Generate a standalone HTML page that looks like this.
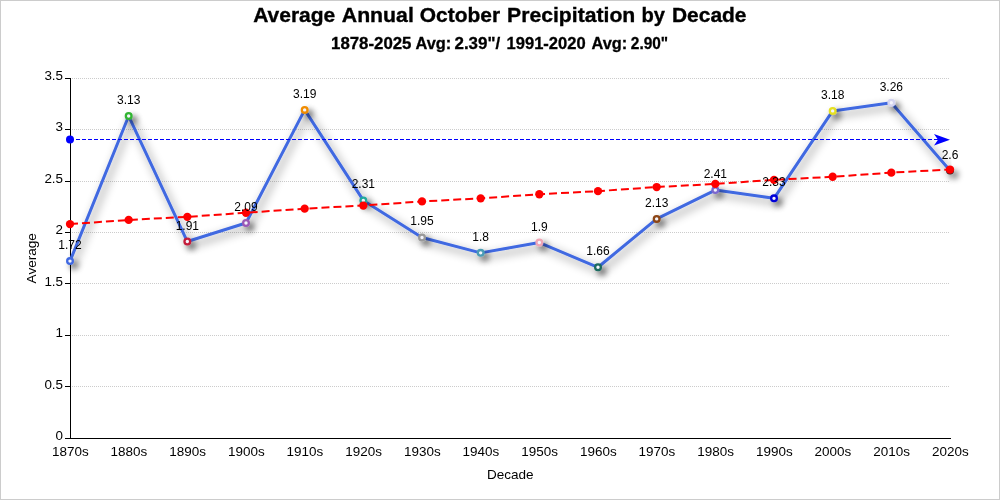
<!DOCTYPE html>
<html><head><meta charset="utf-8"><title>Average Annual October Precipitation by Decade</title>
<style>
html,body{margin:0;padding:0;background:#fff;}
body{width:1000px;height:500px;overflow:hidden;}
#chart{box-sizing:border-box;width:1000px;height:500px;border:1px solid #ccc;background:#fff;position:relative;}
svg{position:absolute;left:-1px;top:-1px;}
text{font-family:"Liberation Sans",sans-serif;fill:#000;}
.ax{font-size:13px;}
.lb{font-size:12px;}
</style></head><body><div id="chart">
<svg width="1000" height="500" viewBox="0 0 1000 500">
<defs>
<filter id="sh" x="-10%" y="-20%" width="120%" height="140%" filterUnits="objectBoundingBox">
<feGaussianBlur in="SourceAlpha" stdDeviation="5"/><feOffset dx="3" dy="3.5" result="b"/>
<feComponentTransfer><feFuncA type="linear" slope="0.5"/></feComponentTransfer>
<feMerge><feMergeNode/><feMergeNode in="SourceGraphic"/></feMerge>
</filter>
<filter id="sh2" x="-300%" y="-300%" width="700%" height="700%">
<feGaussianBlur in="SourceAlpha" stdDeviation="3"/><feOffset dx="3.5" dy="4" result="b"/>
<feComponentTransfer><feFuncA type="linear" slope="0.6"/></feComponentTransfer>
<feMerge><feMergeNode/><feMergeNode in="SourceGraphic"/></feMerge>
</filter>
<clipPath id="cp"><rect x="68.5" y="60" width="883" height="400"/></clipPath>
</defs>

<text y="22.4" font-size="21" font-weight="bold" style="fill:#000;stroke:#000;stroke-width:0.35"><tspan x="253.20" textLength="82.11" lengthAdjust="spacingAndGlyphs">Average</tspan> <tspan x="341.79" textLength="72.05" lengthAdjust="spacingAndGlyphs">Annual</tspan> <tspan x="419.75" textLength="80.31" lengthAdjust="spacingAndGlyphs">October</tspan> <tspan x="507.09" textLength="128.22" lengthAdjust="spacingAndGlyphs">Precipitation</tspan> <tspan x="641.46" textLength="23.49" lengthAdjust="spacingAndGlyphs">by</tspan> <tspan x="672.00" textLength="74.51" lengthAdjust="spacingAndGlyphs">Decade</tspan></text>
<text y="48.6" font-size="16" font-weight="bold" style="fill:#000;stroke:#000;stroke-width:0.3"><tspan x="331.05" textLength="80.39" lengthAdjust="spacingAndGlyphs">1878-2025</tspan> <tspan x="415.59" textLength="35.71" lengthAdjust="spacingAndGlyphs">Avg:</tspan> <tspan x="454.47" textLength="45.71" lengthAdjust="spacingAndGlyphs">2.39&quot;/</tspan> <tspan x="506.57" textLength="79.02" lengthAdjust="spacingAndGlyphs">1991-2020</tspan> <tspan x="591.59" textLength="35.71" lengthAdjust="spacingAndGlyphs">Avg:</tspan> <tspan x="630.82" textLength="37.33" lengthAdjust="spacingAndGlyphs">2.90&quot;</tspan></text>
<line x1="70" x2="950" y1="386.5" y2="386.5" stroke="#ccc" stroke-width="1" stroke-dasharray="1 1"/>
<line x1="70" x2="950" y1="335.5" y2="335.5" stroke="#ccc" stroke-width="1" stroke-dasharray="1 1"/>
<line x1="70" x2="950" y1="283.5" y2="283.5" stroke="#ccc" stroke-width="1" stroke-dasharray="1 1"/>
<line x1="70" x2="950" y1="232.5" y2="232.5" stroke="#ccc" stroke-width="1" stroke-dasharray="1 1"/>
<line x1="70" x2="950" y1="181.5" y2="181.5" stroke="#ccc" stroke-width="1" stroke-dasharray="1 1"/>
<line x1="70" x2="950" y1="129.5" y2="129.5" stroke="#ccc" stroke-width="1" stroke-dasharray="1 1"/>
<line x1="70" x2="950" y1="78.5" y2="78.5" stroke="#ccc" stroke-width="1" stroke-dasharray="1 1"/>
<line x1="70.5" x2="70.5" y1="78" y2="439" stroke="#000" stroke-width="1"/>
<line x1="70" x2="951" y1="438.5" y2="438.5" stroke="#000" stroke-width="1"/>
<line x1="65" x2="70" y1="438.5" y2="438.5" stroke="#000" stroke-width="1"/>
<text class="ax" x="63" y="440.3" text-anchor="end" style="font-size:13.4px">0</text>
<line x1="65" x2="70" y1="386.5" y2="386.5" stroke="#000" stroke-width="1"/>
<text class="ax" x="63" y="389.3" text-anchor="end" style="font-size:13.4px">0.5</text>
<line x1="65" x2="70" y1="335.5" y2="335.5" stroke="#000" stroke-width="1"/>
<text class="ax" x="63" y="337.3" text-anchor="end" style="font-size:13.4px">1</text>
<line x1="65" x2="70" y1="283.5" y2="283.5" stroke="#000" stroke-width="1"/>
<text class="ax" x="63" y="286.3" text-anchor="end" style="font-size:13.4px">1.5</text>
<line x1="65" x2="70" y1="232.5" y2="232.5" stroke="#000" stroke-width="1"/>
<text class="ax" x="63" y="234.3" text-anchor="end" style="font-size:13.4px">2</text>
<line x1="65" x2="70" y1="181.5" y2="181.5" stroke="#000" stroke-width="1"/>
<text class="ax" x="63" y="183.3" text-anchor="end" style="font-size:13.4px">2.5</text>
<line x1="65" x2="70" y1="129.5" y2="129.5" stroke="#000" stroke-width="1"/>
<text class="ax" x="63" y="131.3" text-anchor="end" style="font-size:13.4px">3</text>
<line x1="65" x2="70" y1="78.5" y2="78.5" stroke="#000" stroke-width="1"/>
<text class="ax" x="63" y="80.3" text-anchor="end" style="font-size:13.4px">3.5</text>
<text class="ax" x="70.30" y="455.7" text-anchor="middle" textLength="36.7" lengthAdjust="spacingAndGlyphs">1870s</text>
<text class="ax" x="128.97" y="455.7" text-anchor="middle" textLength="36.7" lengthAdjust="spacingAndGlyphs">1880s</text>
<text class="ax" x="187.63" y="455.7" text-anchor="middle" textLength="36.7" lengthAdjust="spacingAndGlyphs">1890s</text>
<text class="ax" x="246.30" y="455.7" text-anchor="middle" textLength="36.7" lengthAdjust="spacingAndGlyphs">1900s</text>
<text class="ax" x="304.97" y="455.7" text-anchor="middle" textLength="36.7" lengthAdjust="spacingAndGlyphs">1910s</text>
<text class="ax" x="363.63" y="455.7" text-anchor="middle" textLength="36.7" lengthAdjust="spacingAndGlyphs">1920s</text>
<text class="ax" x="422.30" y="455.7" text-anchor="middle" textLength="36.7" lengthAdjust="spacingAndGlyphs">1930s</text>
<text class="ax" x="480.97" y="455.7" text-anchor="middle" textLength="36.7" lengthAdjust="spacingAndGlyphs">1940s</text>
<text class="ax" x="539.63" y="455.7" text-anchor="middle" textLength="36.7" lengthAdjust="spacingAndGlyphs">1950s</text>
<text class="ax" x="598.30" y="455.7" text-anchor="middle" textLength="36.7" lengthAdjust="spacingAndGlyphs">1960s</text>
<text class="ax" x="656.97" y="455.7" text-anchor="middle" textLength="36.7" lengthAdjust="spacingAndGlyphs">1970s</text>
<text class="ax" x="715.63" y="455.7" text-anchor="middle" textLength="36.7" lengthAdjust="spacingAndGlyphs">1980s</text>
<text class="ax" x="774.30" y="455.7" text-anchor="middle" textLength="36.7" lengthAdjust="spacingAndGlyphs">1990s</text>
<text class="ax" x="832.97" y="455.7" text-anchor="middle" textLength="36.7" lengthAdjust="spacingAndGlyphs">2000s</text>
<text class="ax" x="891.63" y="455.7" text-anchor="middle" textLength="36.7" lengthAdjust="spacingAndGlyphs">2010s</text>
<text class="ax" x="950.30" y="455.7" text-anchor="middle" textLength="36.7" lengthAdjust="spacingAndGlyphs">2020s</text>
<text class="ax" x="510.2" y="478.5" text-anchor="middle" textLength="46.6" lengthAdjust="spacingAndGlyphs">Decade</text>
<text class="ax" transform="translate(35.6,258.3) rotate(-90)" text-anchor="middle" textLength="50.2" lengthAdjust="spacingAndGlyphs">Average</text>
<polyline points="70.00,261.09 128.67,116.06 187.33,241.54 246.00,223.03 304.67,109.89 363.33,200.40 422.00,237.43 480.67,252.86 539.33,242.57 598.00,267.26 656.67,218.91 715.33,190.11 774.00,198.34 832.67,110.91 891.33,102.69 950.00,170.57" fill="none" stroke="#4169E1" stroke-width="3" stroke-linejoin="bevel" filter="url(#sh)" clip-path="url(#cp)"/>
<circle cx="70.00" cy="261.09" r="2.85" fill="#f4f4fc" stroke="#4169E1" stroke-width="2.3" filter="url(#sh2)"/>
<circle cx="128.67" cy="116.06" r="2.85" fill="#f4f4fc" stroke="#32B432" stroke-width="2.3" filter="url(#sh2)"/>
<circle cx="187.33" cy="241.54" r="2.85" fill="#f4f4fc" stroke="#C41E3A" stroke-width="2.3" filter="url(#sh2)"/>
<circle cx="246.00" cy="223.03" r="2.85" fill="#f4f4fc" stroke="#9B59B6" stroke-width="2.3" filter="url(#sh2)"/>
<circle cx="304.67" cy="109.89" r="2.85" fill="#f4f4fc" stroke="#F08C00" stroke-width="2.3" filter="url(#sh2)"/>
<circle cx="363.33" cy="200.40" r="2.85" fill="#f4f4fc" stroke="#20A89C" stroke-width="2.3" filter="url(#sh2)"/>
<circle cx="422.00" cy="237.43" r="2.85" fill="#f4f4fc" stroke="#999999" stroke-width="2.3" filter="url(#sh2)"/>
<circle cx="480.67" cy="252.86" r="2.85" fill="#f4f4fc" stroke="#4A9CB5" stroke-width="2.3" filter="url(#sh2)"/>
<circle cx="539.33" cy="242.57" r="2.85" fill="#f4f4fc" stroke="#EFA5B5" stroke-width="2.3" filter="url(#sh2)"/>
<circle cx="598.00" cy="267.26" r="2.85" fill="#f4f4fc" stroke="#1A6B60" stroke-width="2.3" filter="url(#sh2)"/>
<circle cx="656.67" cy="218.91" r="2.85" fill="#f4f4fc" stroke="#8B4513" stroke-width="2.3" filter="url(#sh2)"/>
<circle cx="715.33" cy="190.11" r="2.85" fill="#f4f4fc" stroke="#7B68CE" stroke-width="2.3" filter="url(#sh2)"/>
<circle cx="774.00" cy="198.34" r="2.85" fill="#f4f4fc" stroke="#0000D8" stroke-width="2.3" filter="url(#sh2)"/>
<circle cx="832.67" cy="110.91" r="2.85" fill="#f4f4fc" stroke="#E6E020" stroke-width="2.3" filter="url(#sh2)"/>
<circle cx="891.33" cy="102.69" r="2.85" fill="#f4f4fc" stroke="#D4D4F0" stroke-width="2.3" filter="url(#sh2)"/>
<circle cx="950.00" cy="170.57" r="2.85" fill="#f4f4fc" stroke="#402020" stroke-width="2.3" filter="url(#sh2)"/>
<line x1="70" x2="940" y1="139.5" y2="139.5" stroke="#0000ff" stroke-width="1" stroke-dasharray="4 2"/>
<circle cx="70" cy="139.5" r="4" fill="#0000ff"/>
<polygon points="950,139.7 934,133.9 938,139.7 934,145.5" fill="#0000ff"/>
<polyline points="70.00,224.06 128.67,219.94 187.33,216.86 246.00,212.74 304.67,208.63 363.33,205.54 422.00,201.43 480.67,198.34 539.33,194.23 598.00,191.14 656.67,187.03 715.33,183.94 774.00,179.83 832.67,176.74 891.33,172.63 950.00,169.54" fill="none" stroke="#ff0000" stroke-width="2" stroke-dasharray="8 4"/>
<circle cx="70.00" cy="224.06" r="4.15" fill="#ff0000"/>
<circle cx="128.67" cy="219.94" r="4.15" fill="#ff0000"/>
<circle cx="187.33" cy="216.86" r="4.15" fill="#ff0000"/>
<circle cx="246.00" cy="212.74" r="4.15" fill="#ff0000"/>
<circle cx="304.67" cy="208.63" r="4.15" fill="#ff0000"/>
<circle cx="363.33" cy="205.54" r="4.15" fill="#ff0000"/>
<circle cx="422.00" cy="201.43" r="4.15" fill="#ff0000"/>
<circle cx="480.67" cy="198.34" r="4.15" fill="#ff0000"/>
<circle cx="539.33" cy="194.23" r="4.15" fill="#ff0000"/>
<circle cx="598.00" cy="191.14" r="4.15" fill="#ff0000"/>
<circle cx="656.67" cy="187.03" r="4.15" fill="#ff0000"/>
<circle cx="715.33" cy="183.94" r="4.15" fill="#ff0000"/>
<circle cx="774.00" cy="179.83" r="4.15" fill="#ff0000"/>
<circle cx="832.67" cy="176.74" r="4.15" fill="#ff0000"/>
<circle cx="891.33" cy="172.63" r="4.15" fill="#ff0000"/>
<circle cx="950.00" cy="169.54" r="4.15" fill="#ff0000"/>
<text class="lb" x="70.00" y="248.65" text-anchor="middle">1.72</text>
<text class="lb" x="128.67" y="103.65" text-anchor="middle">3.13</text>
<text class="lb" x="187.33" y="229.65" text-anchor="middle">1.91</text>
<text class="lb" x="246.00" y="210.65" text-anchor="middle">2.09</text>
<text class="lb" x="304.67" y="97.65" text-anchor="middle">3.19</text>
<text class="lb" x="363.33" y="187.65" text-anchor="middle">2.31</text>
<text class="lb" x="422.00" y="224.65" text-anchor="middle">1.95</text>
<text class="lb" x="480.67" y="240.65" text-anchor="middle">1.8</text>
<text class="lb" x="539.33" y="230.65" text-anchor="middle">1.9</text>
<text class="lb" x="598.00" y="254.65" text-anchor="middle">1.66</text>
<text class="lb" x="656.67" y="206.65" text-anchor="middle">2.13</text>
<text class="lb" x="715.33" y="177.65" text-anchor="middle">2.41</text>
<text class="lb" x="774.00" y="185.65" text-anchor="middle">2.33</text>
<text class="lb" x="832.67" y="98.65" text-anchor="middle">3.18</text>
<text class="lb" x="891.33" y="90.65" text-anchor="middle">3.26</text>
<text class="lb" x="950.00" y="158.65" text-anchor="middle">2.6</text>
</svg></div></body></html>
